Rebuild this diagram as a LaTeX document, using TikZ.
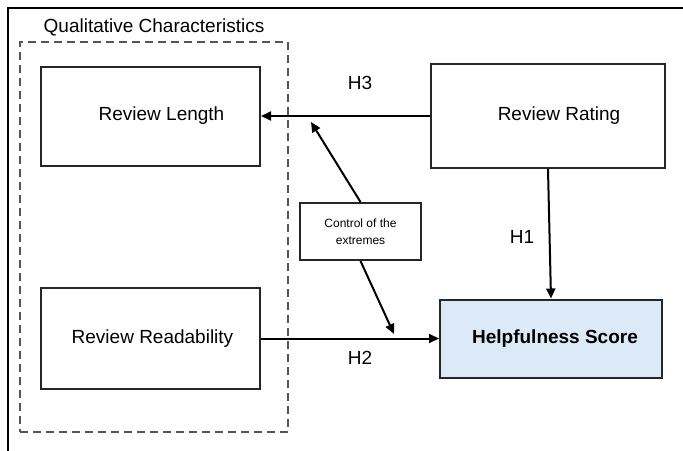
\documentclass[tikz,border=0pt]{standalone}
\usepackage{fontspec}
\setmainfont{Liberation Sans}
\usetikzlibrary{arrows.meta}
\definecolor{hsblue}{RGB}{220,234,248}
\definecolor{dashgray}{RGB}{85,85,85}
\tikzset{
  box/.style={draw=black!85, line width=2pt, rectangle, inner sep=0pt, font=\fontsize{19}{22}\selectfont},
  lbl/.style={inner sep=0pt, font=\fontsize{19}{22}\selectfont},
  arr/.style={line width=2pt, -{Triangle[length=10pt,width=9pt]}},
  grp/.style={draw=dashgray, line width=1.8pt, dash pattern=on 8pt off 5pt},
}
\begin{document}
\begin{tikzpicture}[x=1pt,y=-1pt]
\useasboundingbox (0,0) rectangle (683,450);
% outer frame
\coordinate (fbl) at (8,452);
\coordinate (ftl) at (8,8);
\coordinate (ftr) at (685,8);
\draw[line width=2pt] (fbl) -- (ftl) -- (ftr);
% group
\node[grp, minimum width=268pt, minimum height=390pt] (grp) at (154,237) {};
\node[lbl] (title) at (154,27) {Qualitative Characteristics};
% boxes
\node[box, minimum width=219pt, minimum height=99pt,
  label={[lbl, xshift=11pt]center:Review Length}] (len) at (150.5,116) {};
\node[box, minimum width=219pt, minimum height=101pt,
  label={[lbl, xshift=2pt]center:Review Readability}] (rd) at (150.5,338.5) {};
\node[box, minimum width=234pt, minimum height=104pt,
  label={[lbl, xshift=11pt]center:Review Rating}] (rat) at (548,116) {};
\node[box, fill=hsblue, minimum width=222pt, minimum height=78pt,
  label={[lbl, xshift=4pt, font=\fontsize{19}{22}\selectfont\bfseries]center:Helpfulness Score}] (hs) at (551,338.5) {};
\node[box, minimum width=121pt, minimum height=57pt, align=center,
  font=\fontsize{12}{17}\selectfont] (ctrl) at (360.5,231.5) {Control of the\\extremes};
% connectors
\draw[arr] (rat.west) -- (len.east);
\draw[arr] (rat.south) -- (hs.north);
\draw[arr] (rd.east) -- (hs.west);
\coordinate (upend) at (311,122);
\coordinate (downend) at (394,334);
\draw[arr] (ctrl.north) -- (upend);
\draw[arr] (ctrl.south) -- (downend);
% labels
\node[lbl] (h3) at (360,83) {H3};
\node[lbl] (h1) at (522,237) {H1};
\node[lbl] (h2) at (360,358) {H2};
\end{tikzpicture}
\end{document}
